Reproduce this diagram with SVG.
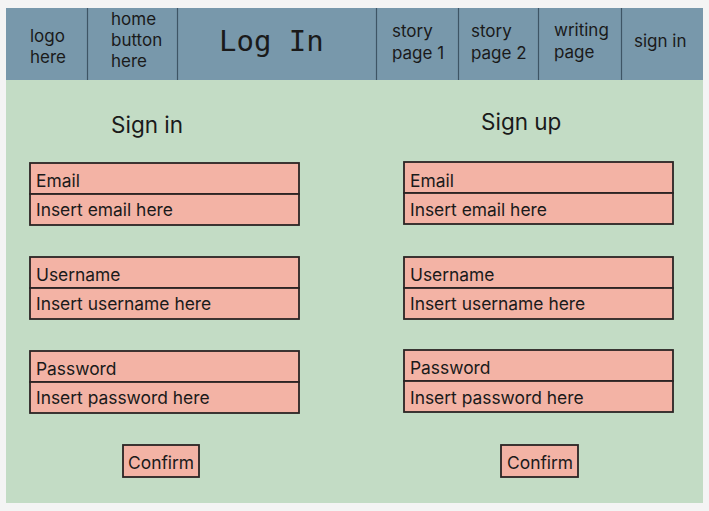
<svg xmlns="http://www.w3.org/2000/svg" width="709" height="511" viewBox="0 0 709 511">
<style>
text{font-family:Inter,"Noto Sans","Liberation Sans",sans-serif;fill:#1a1a1a;font-size:17px}
.fl{font-size:17.4px}
.nav{fill:#7898ab}
.div{stroke:#3e5565;stroke-width:1.2}
.f{fill:#f3b3a5;stroke:#2b2424;stroke-width:1.8}
.t{font-size:22.5px}
.mono{font-family:"DejaVu Sans Mono","Liberation Mono",monospace;font-size:29px}
</style>
<rect x="0" y="0" width="709" height="511" fill="#f4f4f4"/>
<rect x="6" y="80" width="697" height="423" fill="#c3dcc5"/>
<g id="header">
<rect class="nav" x="6" y="8" width="697" height="72"/>
<line class="div" x1="87.5" y1="8" x2="87.5" y2="80"/>
<line class="div" x1="177.5" y1="8" x2="177.5" y2="80"/>
<line class="div" x1="376.5" y1="8" x2="376.5" y2="80"/>
<line class="div" x1="458.5" y1="8" x2="458.5" y2="80"/>
<line class="div" x1="538.5" y1="8" x2="538.5" y2="80"/>
<line class="div" x1="621.5" y1="8" x2="621.5" y2="80"/>
<text x="30" y="42">logo</text><text x="30" y="63">here</text>
<text x="111" y="25">home</text><text x="111" y="46">button</text><text x="111" y="67">here</text>
<text class="mono" x="219" y="51">Log In</text>
<text x="392" y="37">story</text><text x="392" y="59">page 1</text>
<text x="471" y="37">story</text><text x="471" y="59">page 2</text>
<text x="554" y="36">writing</text><text x="554" y="58">page</text>
<text x="634" y="47">sign in</text>
</g>
<g id="signin">
<text class="t" x="111" y="133">Sign in</text>
<g id="si-email"><rect class="f" x="30" y="163" width="269" height="31"/><rect class="f" x="30" y="194" width="269" height="31"/>
<text class="fl" x="36" y="187">Email</text><text class="fl" x="36" y="216">Insert email here</text></g>
<g id="si-user"><rect class="f" x="30" y="257" width="269" height="31"/><rect class="f" x="30" y="288" width="269" height="31"/>
<text class="fl" x="36" y="281">Username</text><text class="fl" x="36" y="310">Insert username here</text></g>
<g id="si-pass"><rect class="f" x="30" y="351" width="269" height="31"/><rect class="f" x="30" y="382" width="269" height="31"/>
<text class="fl" x="36" y="375">Password</text><text class="fl" x="36" y="404">Insert password here</text></g>
<g id="si-confirm"><rect class="f" x="123" y="445" width="76" height="32"/><text class="fl" x="128" y="469">Confirm</text></g>
</g>
<g id="signup">
<text class="t" x="481" y="130">Sign up</text>
<g id="su-email"><rect class="f" x="404" y="162" width="269" height="31"/><rect class="f" x="404" y="193" width="269" height="31"/>
<text class="fl" x="410" y="187">Email</text><text class="fl" x="410" y="216">Insert email here</text></g>
<g id="su-user"><rect class="f" x="404" y="257" width="269" height="31"/><rect class="f" x="404" y="288" width="269" height="31"/>
<text class="fl" x="410" y="281">Username</text><text class="fl" x="410" y="310">Insert username here</text></g>
<g id="su-pass"><rect class="f" x="404" y="350" width="269" height="31"/><rect class="f" x="404" y="381" width="269" height="31"/>
<text class="fl" x="410" y="374">Password</text><text class="fl" x="410" y="404">Insert password here</text></g>
<g id="su-confirm"><rect class="f" x="501" y="445" width="77" height="32"/><text class="fl" x="507" y="469">Confirm</text></g>
</g>
<g id="connectors"></g>
</svg>
